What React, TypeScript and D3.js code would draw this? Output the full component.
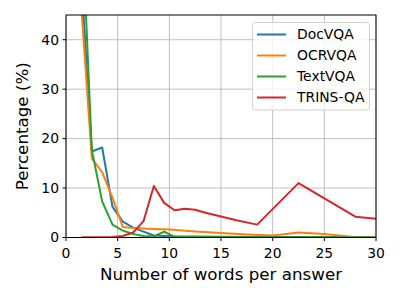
import React from "react";
import * as d3 from "d3";

const docX = [1.5, 2.5, 3.5, 4.5, 5.5, 6.5, 7.5, 8.5, 9.5, 10.5, 12.5, 15, 20, 25, 30];
const docY = [52, 17.4, 18.2, 6.2, 3.2, 2.0, 1.2, 0.4, 0.3, 0.2, 0.2, 0.15, 0.1, 0.1, 0.1];

const ocrX = [1.5, 2.5, 3.5, 4.5, 5.5, 6.5, 7.5, 8.5, 10, 12.5, 15, 17.5, 20, 22.5, 25, 27.8, 30];
const ocrY = [46, 16, 13.2, 8.0, 2.1, 1.9, 1.8, 1.7, 1.6, 1.2, 0.9, 0.6, 0.4, 1.0, 0.7, 0.1, 0.1];

const txtX = [1.5, 2.5, 3.5, 4.5, 5.5, 6.5, 7.5, 8.5, 9.5, 10.5, 12.5, 15, 20, 25, 30];
const txtY = [66, 17.7, 7.3, 2.6, 1.4, 0.7, 0.3, 0.2, 1.2, 0.1, 0.1, 0.05, 0.05, 0.05, 0.05];

const trinsX = [1.5, 2.5, 3.5, 4.5, 5.5, 6.5, 7.5, 8.5, 9.5, 10.5, 11.5, 12.5, 13.5, 16.5, 18.5, 22.5, 28, 30];
const trinsY = [0.05, 0.05, 0.05, 0.1, 0.3, 1.0, 3.3, 10.4, 7.0, 5.5, 5.8, 5.6, 5.0, 3.5, 2.6, 11.0, 4.2, 3.8];

const seriesNames = ["DocVQA", "OCRVQA", "TextVQA", "TRINS-QA"];
const colors = ["#1f77b4", "#ff7f0e", "#2ca02c", "#d62728"];
const xTicks = [0, 5, 10, 15, 20, 25, 30];
const yTicks = [0, 10, 20, 30, 40];

export default function App() {
  const W = 400, H = 300;
  const m = { l: 66, r: 376, t: 15, b: 237.5 };
  const x = d3.scaleLinear().domain([0, 30]).range([m.l, m.r]);
  const y = d3.scaleLinear().domain([0, 45]).range([m.b, m.t]);
  const line = d3.line<[number, number]>().x(d => x(d[0])).y(d => y(d[1]));
  const data: [number[], number[]][] = [[docX, docY], [ocrX, ocrY], [txtX, txtY], [trinsX, trinsY]];
  const font = "DejaVu Sans";
  return (
    <svg width={W} height={H} style={{ position: "absolute", left: 0, top: 0, background: "#fff" }} fontFamily={font}>
      <defs>
        <clipPath id="clip"><rect x={m.l} y={m.t} width={m.r - m.l} height={m.b - m.t} /></clipPath>
      </defs>
      {xTicks.map(t => (
        <line key={"gx" + t} x1={x(t)} x2={x(t)} y1={m.t} y2={m.b} stroke="#b0b0b0" strokeWidth={0.8} />
      ))}
      {yTicks.map(t => (
        <line key={"gy" + t} x1={m.l} x2={m.r} y1={y(t)} y2={y(t)} stroke="#b0b0b0" strokeWidth={0.8} />
      ))}
      <g clipPath="url(#clip)">
        {data.map(([xs, ys], i) => (
          <path key={i} d={line(xs.map((v, j) => [v, ys[j]] as [number, number])) || ""} fill="none" stroke={colors[i]} strokeWidth={2} strokeLinejoin="round" />
        ))}
      </g>
      <rect x={m.l} y={m.t} width={m.r - m.l} height={m.b - m.t} fill="none" stroke="#000" strokeWidth={1} />
      {xTicks.map(t => (
        <g key={"xt" + t}>
          <line x1={x(t)} x2={x(t)} y1={m.b} y2={m.b + 3.5} stroke="#000" />
          <text x={x(t)} y={m.b + 20} textAnchor="middle" fontSize={13.9} fill="#000">{t}</text>
        </g>
      ))}
      {yTicks.map(t => (
        <g key={"yt" + t}>
          <line x1={m.l - 3.5} x2={m.l} y1={y(t)} y2={y(t)} stroke="#000" />
          <text x={m.l - 7} y={y(t)} dy="0.35em" textAnchor="end" fontSize={13.9} fill="#000">{t}</text>
        </g>
      ))}
      <text x={(m.l + m.r) / 2} y={280} textAnchor="middle" fontSize={16.7} fill="#000">Number of words per answer</text>
      <text transform={`translate(28,${(m.t + m.b) / 2}) rotate(-90)`} textAnchor="middle" fontSize={16.7} fill="#000">Percentage (%)</text>
      <g>
        <rect x={252.5} y={22.5} width={117} height={87.5} rx={3} fill="#fff" fillOpacity={0.8} stroke="#d0d0d0" strokeWidth={1} />
        {seriesNames.map((n, i) => (
          <g key={n} transform={`translate(0,${34.5 + i * 21})`}>
            <line x1={257} x2={286} y1={0} y2={0} stroke={colors[i]} strokeWidth={2} />
            <text x={297} y={0} dy="0.35em" fontSize={13.9} fill="#000">{n}</text>
          </g>
        ))}
      </g>
    </svg>
  );
}
